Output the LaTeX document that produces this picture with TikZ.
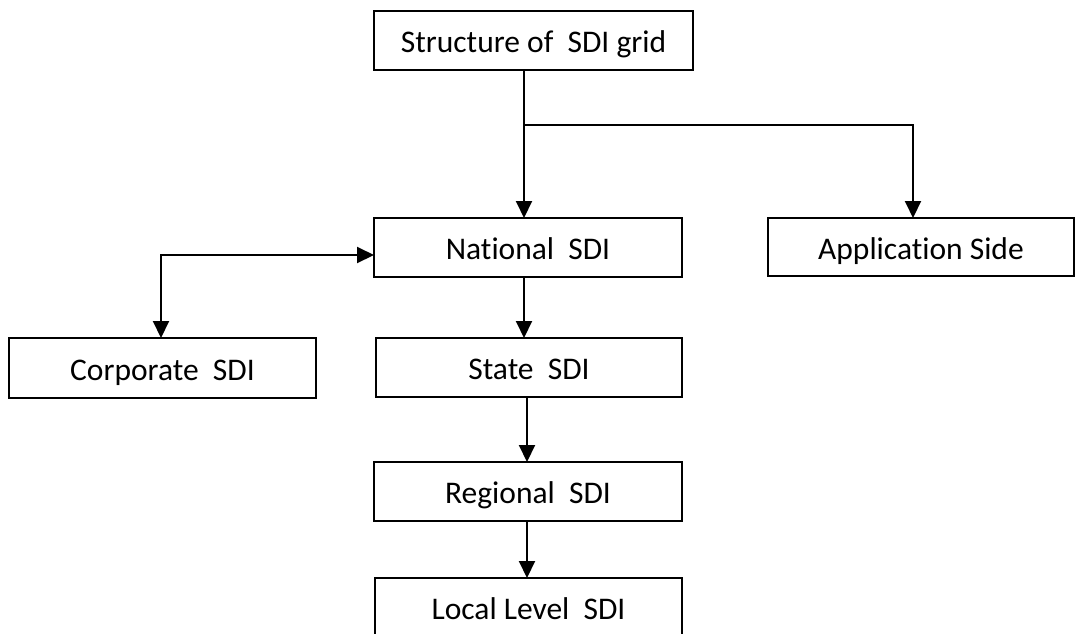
\documentclass[tikz,border=0pt]{standalone}
\usepackage{fontspec}
\setmainfont{Carlito}[Ligatures={NoCommon,NoContextual}]
\usetikzlibrary{arrows.meta,calc}
\tikzset{
  box/.style={draw=black, line width=1.6pt, fill=white, inner sep=0pt, outer sep=0pt,
    minimum height=59pt, text height=27pt, text depth=2.4pt, font=\fontsize{31.5}{36}\selectfont},
  conn/.style={draw=black, line width=2pt, -{Triangle[width=16pt,length=17pt]}},
  dconn/.style={draw=black, line width=2pt, {Triangle[width=16pt,length=17pt]}-{Triangle[width=16pt,length=17pt]}},
  plain/.style={draw=black, line width=2pt}
}
\begin{document}
\begin{tikzpicture}[x=1pt,y=-1pt]
\useasboundingbox (0,0) rectangle (1076,633);
\clip (0,0) rectangle (1076,633);
\fill[white] (0,0) rectangle (1076,633);
\node[box, minimum width=319pt] (top) at (533.5,40.5) {Structure of~ SDI grid};
\node[box, minimum width=308pt] (nat) at (528,247.5) {Nat\kern0pt ional~ SDI};
\node[box, minimum width=306pt, minimum height=58pt] (app) at (921,247) {Applicat\kern0pt ion Side};
\node[box, minimum width=307pt, minimum height=60pt] (corp) at (162.5,368) {Corporate~ SDI};
\node[box, minimum width=306pt] (state) at (529,367.5) {State~ SDI};
\node[box, minimum width=308pt] (reg) at (528,491.5) {Regional~ SDI};
\node[box, minimum width=307pt] (loc) at (528.5,607.5) {Local Level~ SDI};
% connectors
\coordinate (j1) at ($(top.south west)+(150,55)$);
\coordinate (j2) at ($(app.north west)+(145,-93)$);
\draw[plain] ($(top.south west)+(150,0)$) -- (j1);
\draw[conn] (j1) -- (j1 |- nat.north);
\draw[conn] (j1) -- (j2) -- (j2 |- app.north);
\coordinate (c1) at ($(corp.north west)+(152,0)$);
\draw[dconn] (c1) |- ($(nat.west)+(0,7.5)$);
\draw[conn] ($(nat.south west)+(150,0)$) -- ($(state.north west)+(148,0)$);
\draw[conn] ($(state.south west)+(151,0)$) -- ($(reg.north west)+(153,0)$);
\draw[conn] ($(reg.south west)+(153,0)$) -- ($(loc.north west)+(152,0)$);
\end{tikzpicture}
\end{document}
